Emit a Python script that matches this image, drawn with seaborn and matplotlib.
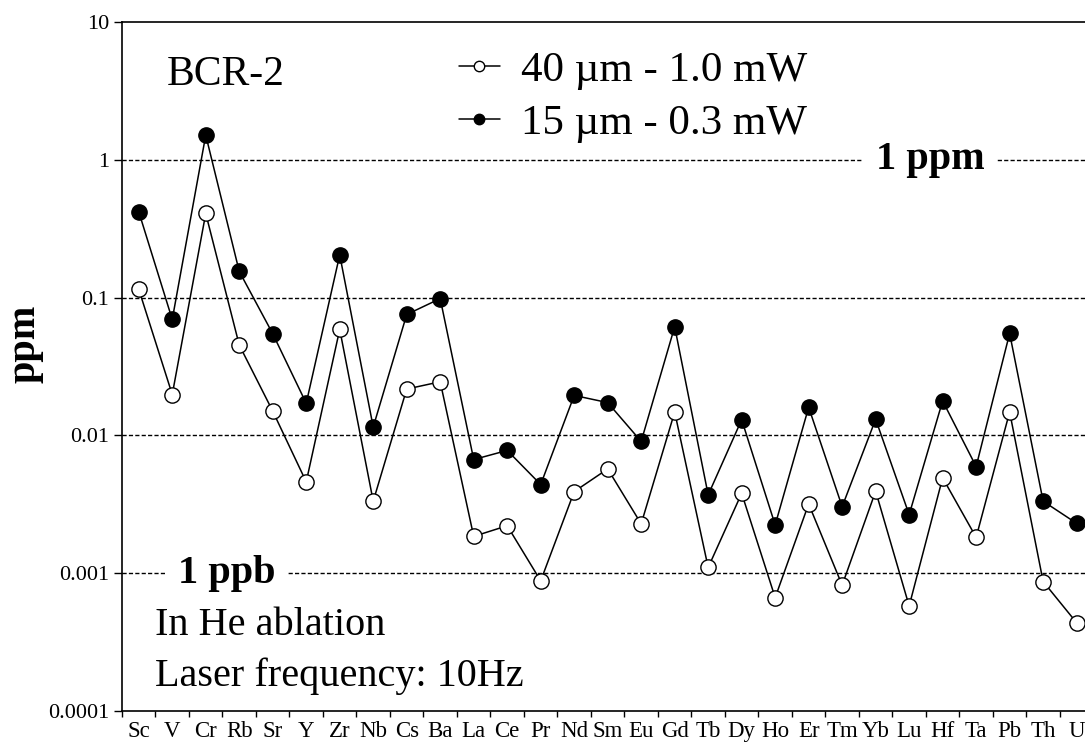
import numpy as np
import pandas as pd
import matplotlib
matplotlib.use("Agg")
import matplotlib.pyplot as plt
from matplotlib.lines import Line2D
from matplotlib.ticker import FixedLocator, NullLocator
import seaborn as sns

# Detection limits for BCR-2
elements = ["Sc", "V", "Cr", "Rb", "Sr", "Y", "Zr", "Nb", "Cs", "Ba",
            "La", "Ce", "Pr", "Nd", "Sm", "Eu", "Gd", "Tb", "Dy", "Ho",
            "Er", "Tm", "Yb", "Lu", "Hf", "Ta", "Pb", "Th", "U"]

spot_40um = [0.115, 0.0198, 0.408, 0.0453, 0.0150, 0.0046, 0.0588, 0.00333, 0.0217, 0.0245,
             0.00185, 0.00221, 0.00088, 0.00391, 0.00571, 0.00228, 0.0148, 0.00110, 0.0038, 0.000665,
             0.00318, 0.000818, 0.00394, 0.000578, 0.00492, 0.00182, 0.0148, 0.00087, 0.000437]

spot_15um = [0.42, 0.0694, 1.51, 0.155, 0.0547, 0.0171, 0.204, 0.0115, 0.0754, 0.0984,
             0.00668, 0.00778, 0.0044, 0.0195, 0.0173, 0.00904, 0.0615, 0.0037, 0.0130, 0.00224,
             0.0160, 0.00304, 0.0131, 0.00266, 0.0178, 0.00594, 0.0550, 0.00333, 0.0023]

series_labels = ["40 \u00b5m - 1.0 mW", "15 \u00b5m - 0.3 mW"]
grid_levels = [1, 0.1, 0.01, 0.001]
ytick_values = [0.0001, 0.001, 0.01, 0.1, 1, 10]
ytick_labels = ["0.0001", "0.001", "0.01", "0.1", "1", "10"]

df = pd.DataFrame({"pos": np.arange(len(elements)),
                   "open": spot_40um,
                   "filled": spot_15um})

sns.set_style("ticks")
plt.rcParams["font.family"] = ["Liberation Serif", "DejaVu Serif"]
plt.rcParams["text.color"] = "black"
plt.rcParams["axes.labelcolor"] = "black"
plt.rcParams["xtick.color"] = "black"
plt.rcParams["ytick.color"] = "black"

fig = plt.figure(figsize=(10.85, 7.56), dpi=100)
ax = fig.add_axes([122 / 1085, 1 - 711 / 756, 1 - 122 / 1085, (711 - 22) / 756])

line_kw = dict(color="black", lw=1.1, marker="o", markersize=11,
               markeredgecolor="black", markeredgewidth=1.0)
sns.lineplot(data=df, x="pos", y="open", markerfacecolor="white", ax=ax, **line_kw)
sns.lineplot(data=df, x="pos", y="filled", markerfacecolor="black", ax=ax, **line_kw)

ax.set_yscale("log")
ax.set_ylim(1e-4, 10)
ax.set_xlim(-0.5, 28.25)

# dashed reference lines
for lvl in grid_levels:
    ax.axhline(lvl, color="black", lw=1.0, ls=(0, (3, 1.6)), zorder=0.5)

ax.text(23.62, 1, "1 ppm", fontsize=29, fontweight="bold", ha="center", va="center",
        bbox=dict(facecolor="white", edgecolor="none", pad=9), zorder=3)
ax.text(2.63, 0.001, "1 ppb", fontsize=29, fontweight="bold", ha="center", va="center",
        bbox=dict(facecolor="white", edgecolor="none", pad=9), zorder=3)

ax.text(0.0467, 0.9086, "BCR-2", transform=ax.transAxes, fontsize=30,
        ha="left", va="baseline")
ax.text(0.0343, 0.110, "In He ablation", transform=ax.transAxes, fontsize=29,
        ha="left", va="baseline")
ax.text(0.0343, 0.0363, "Laser frequency: 10Hz", transform=ax.transAxes, fontsize=29,
        ha="left", va="baseline")

# axes cosmetics
ax.yaxis.set_major_locator(FixedLocator(ytick_values))
ax.yaxis.set_minor_locator(NullLocator())
ax.set_yticklabels(ytick_labels)
ax.set_xticks(np.arange(len(elements)) - 0.5, minor=False)
ax.set_xticklabels([])
ax.set_xticks(np.arange(len(elements)), minor=True)
ax.set_xticklabels(elements, minor=True)
ax.tick_params(axis="x", which="major", direction="out", length=4, width=1.0)
ax.tick_params(axis="x", which="minor", length=0, pad=7, labelsize=16.5)
ax.tick_params(axis="y", direction="out", length=6, width=1.0, pad=3, labelsize=16)

for side in ["left", "bottom", "top"]:
    ax.spines[side].set_linewidth(1.2)
    ax.spines[side].set_color("black")
ax.spines["right"].set_visible(False)

ax.set_xlabel("")
ax.set_ylabel("ppm", fontsize=29, fontweight="bold")
ax.yaxis.set_label_coords(-0.082, 0.533)

handles = [Line2D([], [], color="black", lw=1.1, marker="o", markersize=7.5,
                  markerfacecolor="white", markeredgecolor="black"),
           Line2D([], [], color="black", lw=1.1, marker="o", markersize=7.5,
                  markerfacecolor="black", markeredgecolor="black")]
fig.legend(handles, series_labels, loc="upper left",
           bbox_to_anchor=(459 / 1085, 1 - 51 / 756), frameon=False,
           fontsize=31, handlelength=0.95, handletextpad=0.5,
           labelspacing=0.31, borderpad=0, borderaxespad=0)

fig.savefig("out.png", dpi=100)
